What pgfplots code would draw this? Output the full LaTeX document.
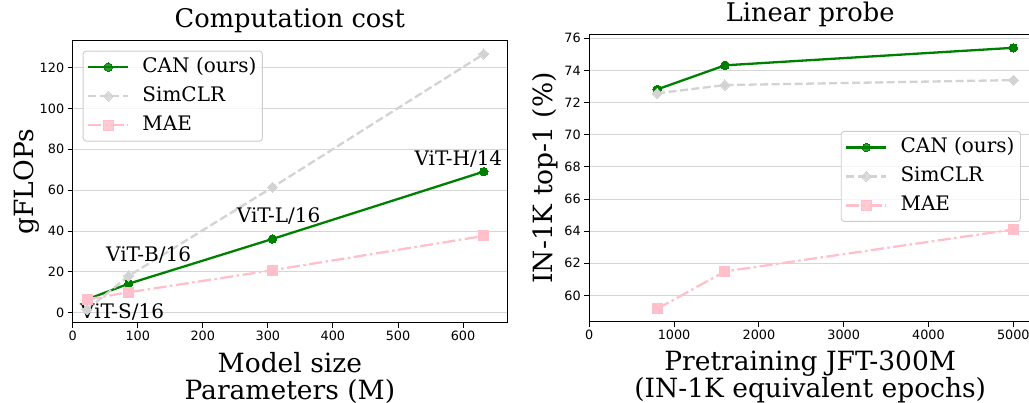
\documentclass[border=0pt]{standalone}
\usepackage{fontspec}
\setmainfont{DejaVu Serif}
\newfontfamily\ticksans{DejaVu Sans}
\usepackage{pgfplots}
\pgfplotsset{compat=1.18}
\definecolor{cangreen}{RGB}{0,128,0}
\definecolor{simgray}{RGB}{211,211,211}
\definecolor{maepink}{RGB}{255,192,203}
\definecolor{gridgray}{RGB}{214,214,214}
\definecolor{framegray}{RGB}{204,204,204}

\pgfplotsset{
  panel/.style={
    scale only axis,
    axis line style={black,line width=0.9pt},
    tick style={black,line width=0.9pt},
    tick align=outside,
    major tick length=5pt,
    xtick pos=bottom, ytick pos=left,
    ymajorgrids,
    grid style={gridgray,line width=0.9pt},
    ticklabel style={font=\fontsize{12.8}{14}\ticksans},
    /pgf/number format/assume math mode=true,
    /pgf/number format/set thousands separator={},
    title style={font=\fontsize{25.7}{28}\selectfont,at={(0.5,1)},anchor=base,yshift=7pt,inner sep=0pt},
    xlabel style={font=\fontsize{26.5}{27}\selectfont,align=center,at={(0.5,0)},anchor=north,yshift=-29pt,inner sep=0pt},
    ylabel style={font=\fontsize{26.5}{27}\selectfont,inner sep=0pt},
    legend cell align=left,
    legend style={font=\fontsize{20}{22}\selectfont,draw=framegray,line width=0.9pt,
      rounded corners=3pt,fill=white,fill opacity=0.8,draw opacity=1,text opacity=1,
      row sep=5pt,inner xsep=4pt,inner ysep=4pt,
      nodes={text height=15pt,text depth=5pt,inner sep=2pt}},
    legend image code/.code={
      \draw[mark repeat=2,mark phase=2,##1] plot coordinates {(0pt,0pt) (20pt,0pt) (40pt,0pt)};},
  },
  canline/.style={cangreen,line width=2.3pt,mark=*,mark size=4.2pt,mark options={solid,fill=cangreen,draw=cangreen,line width=0pt}},
  simline/.style={simgray,line width=2.3pt,dash pattern=on 8pt off 3.5pt,mark=square*,mark size=3.6pt,mark options={solid,rotate=45,fill=simgray,draw=simgray,line width=0pt}},
  maeline/.style={maepink,line width=2.3pt,dash pattern=on 13pt off 3.5pt on 2.5pt off 3.5pt,mark=square*,mark size=5pt,mark options={solid,fill=maepink,draw=maepink,line width=0pt}},
}
\newcommand{\lgap}{\hspace*{11pt}}

\begin{document}
\begin{tikzpicture}
\path[use as bounding box] (0,0) rectangle (1029pt,402pt);
\clip (0,0) rectangle (1029pt,402pt);

% left panel: computation cost
\begin{axis}[panel,
  at={(72.7pt,79.3pt)},anchor=south west,
  width=434.3pt,height=282pt,
  xmin=0,xmax=667.6,ymin=-4.9,ymax=133.2,
  xtick={0,100,...,600},ytick={0,20,...,120},
  title={Computation cost},
  xlabel={Model size\\Parameters (M)},
  ylabel={gFLOPs},
  ylabel style={at={(axis description cs:-0.0914,0.5)},anchor=base},
  legend style={at={(0.023,0.9645)},anchor=north west},
]
\addplot[canline] coordinates {(22,6.5) (86,14.2) (307,36.1) (632,69.1)};
\addlegendentry{\lgap CAN (ours)}
\addplot[simline] coordinates {(22,1.5) (86,18) (307,61.4) (632,126.7)};
\addlegendentry{\lgap SimCLR}
\addplot[maeline] coordinates {(22,6.5) (86,10) (307,20.8) (632,37.6)};
\addlegendentry{\lgap MAE}
\node[anchor=base west,inner sep=0pt,font=\fontsize{20}{22}\selectfont] at (axis cs:11.2,-2.7) {ViT-S/16};
\node[anchor=base west,inner sep=0pt,font=\fontsize{20}{22}\selectfont] at (axis cs:51.2,25.0) {ViT-B/16};
\node[anchor=base west,inner sep=0pt,font=\fontsize{20}{22}\selectfont] at (axis cs:252.1,44.1) {ViT-L/16};
\node[anchor=base west,inner sep=0pt,font=\fontsize{20}{22}\selectfont] at (axis cs:525.2,72.0) {ViT-H/14};
\end{axis}

% right panel: linear probe
\begin{axis}[panel,
  at={(589.3pt,80.3pt)},anchor=south west,
  width=441.8pt,height=287.7pt,
  xmin=0,xmax=5210,ymin=58.36,ymax=76.27,
  xtick={0,1000,...,5000},ytick={60,62,...,76},
  scaled x ticks=false,
  title={Linear probe},
  xlabel={Pretraining JFT-300M\\(IN-1K equivalent epochs)},
  ylabel={IN-1K top-1 (\%)},
  ylabel style={at={(axis description cs:-0.0822,0.5)},anchor=base},
  legend style={at={(0.977,0.663)},anchor=north east},
]
\addplot[canline] coordinates {(800,72.82) (1600,74.32) (5000,75.41)};
\addlegendentry{\lgap CAN (ours)}
\addplot[simline] coordinates {(800,72.58) (1600,73.09) (5000,73.4)};
\addlegendentry{\lgap SimCLR}
\addplot[maeline] coordinates {(800,59.16) (1600,61.49) (5000,64.1)};
\addlegendentry{\lgap MAE}
\end{axis}
\end{tikzpicture}
\end{document}
